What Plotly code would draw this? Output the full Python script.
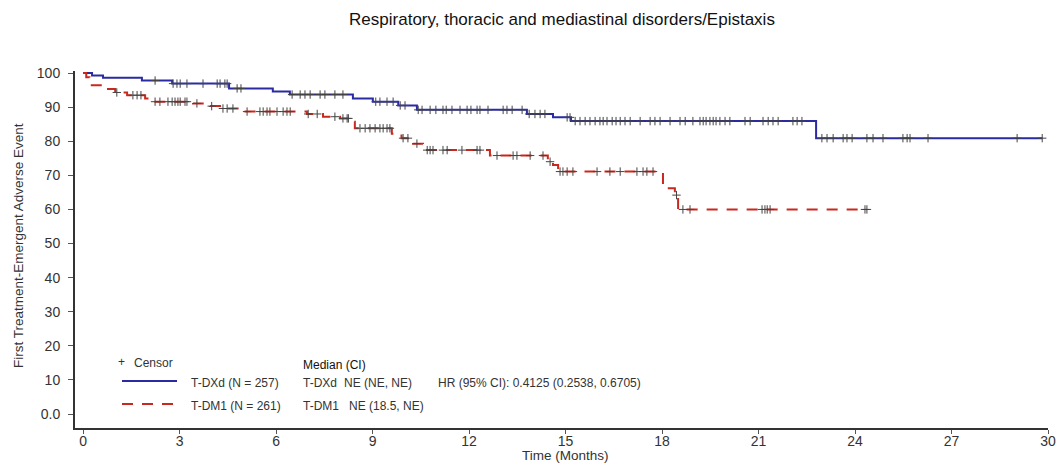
import numpy as np
import plotly.graph_objects as go

# Kaplan-Meier step data: event times (months) and event-free percentage after each step
tdxd_times = [0, 0.28, 0.62, 1.83, 2.77, 4.54, 5.9, 6.43, 8.39, 9.01, 9.8, 10.38,
              13.8, 14.61, 15.17, 22.79]
tdxd_surv = [100, 99.3, 98.6, 97.8, 96.9, 95.5, 94.6, 93.7, 92.5, 91.6, 90.5, 89.2,
             88.0, 87.0, 85.9, 80.9]
tdxd_end = 29.82

tdm1_times = [0, 0.1, 0.2, 0.62, 1.0, 1.37, 1.93, 2.08, 3.42, 3.95, 4.26, 4.97,
              6.96, 7.46, 7.99, 8.3, 8.45, 9.6, 9.9, 10.26, 10.57, 12.65, 14.45,
              14.61, 14.77, 18.03, 18.4, 18.5]
tdm1_surv = [100, 98.8, 96.4, 95.3, 94.3, 93.5, 92.5, 91.6, 91.1, 90.3, 89.6, 88.7,
             88.0, 87.2, 86.7, 85.7, 83.8, 82.2, 80.9, 79.3, 77.4, 75.8, 74.0,
             73.0, 71.1, 66.2, 64.2, 60.0]
tdm1_end = 24.37

# Censoring times (months)
tdxd_censor = [2.24, 2.80, 2.92, 3.02, 3.23, 3.73, 4.17, 4.26, 4.41, 4.48, 4.79, 4.91,
               6.5, 6.75, 6.90, 7.06, 7.37, 7.52, 7.83, 8.08, 9.1, 9.23, 9.45, 9.64,
               9.86, 10.01, 10.42, 10.54, 10.79, 10.97, 11.19, 11.29, 11.47, 11.72,
               11.94, 12.06, 12.25, 12.34, 12.59, 13.06, 13.18, 13.34, 13.65, 13.87,
               14.05, 14.21, 14.36, 15.05, 15.14, 15.30, 15.45, 15.61, 15.76, 15.92,
               16.07, 16.17, 16.29, 16.45, 16.57, 16.70, 16.85, 17.01, 17.32, 17.63,
               17.78, 17.94, 18.25, 18.56, 18.72, 18.96, 19.18, 19.28, 19.37, 19.49,
               19.59, 19.68, 19.80, 19.96, 20.11, 20.58, 20.74, 21.14, 21.30, 21.45,
               21.61, 22.07, 22.20, 22.35, 22.97, 23.13, 23.32, 23.63, 23.75, 23.91,
               24.37, 24.56, 24.87, 25.49, 25.62, 25.71, 26.27, 29.04, 29.82]
tdm1_censor = [1.05, 1.55, 1.68, 1.80, 2.24, 2.39, 2.64, 2.77, 2.86, 2.95, 3.02, 3.17,
               3.23, 3.54, 4.0, 4.35, 4.48, 4.66, 5.10, 5.50, 5.60, 5.72, 5.81, 6.03,
               6.22, 6.34, 6.44, 7.00, 7.28, 7.83, 8.08, 8.21, 8.25, 8.61, 8.77, 8.92,
               9.08, 9.23, 9.33, 9.45, 9.54, 9.95, 10.10, 10.38, 10.70, 10.79, 10.88,
               11.19, 11.32, 11.78, 12.25, 12.34, 12.87, 13.37, 13.49, 13.90, 14.30,
               14.52, 14.83, 14.92, 15.05, 15.23, 15.98, 16.38, 16.70, 17.22, 17.41,
               17.53, 17.72, 18.45, 18.65, 18.87, 21.11, 21.20, 21.27, 21.36, 24.31,
               24.37]

y_ticks = [0, 10, 20, 30, 40, 50, 60, 70, 80, 90, 100]
y_ticktext = ["0.0", "10", "20", "30", "40", "50", "60", "70", "80", "90", "100"]
x_ticks = [0, 3, 6, 9, 12, 15, 18, 21, 24, 27, 30]

BLUE = "#2a2aa3"
RED = "#c9281f"
CENSOR = "#444444"
TEXT = "#333333"
FONT = "Liberation Sans, Arial, sans-serif"


def step_value(times, surv, t):
    idx = np.searchsorted(np.asarray(times), t, side="right") - 1
    return np.asarray(surv)[idx]


def curve(times, surv, end):
    return list(times) + [end], list(surv) + [surv[-1]]


fig = go.Figure()

for times, surv, end, cens, color, dash in [
    (tdxd_times, tdxd_surv, tdxd_end, tdxd_censor, BLUE, "solid"),
    (tdm1_times, tdm1_surv, tdm1_end, tdm1_censor, RED, "11px,9px"),
]:
    x, y = curve(times, surv, end)
    fig.add_trace(go.Scatter(x=x, y=y, mode="lines", line_shape="hv",
                             line=dict(color=color, width=2, dash=dash),
                             hoverinfo="skip", showlegend=False))
    fig.add_trace(go.Scatter(x=cens, y=step_value(times, surv, cens), mode="markers",
                             marker=dict(symbol="cross-thin", size=6,
                                         line=dict(color=CENSOR, width=1)),
                             hoverinfo="skip", showlegend=False, cliponaxis=False))

# plot-area pixel frame used for placing the legend block and axis titles
W, H = 1061, 466
L, R, T, B = 75, 1048, 71, 428


def px(xp):
    return (xp - L) / (R - L)


def py(yp):
    return (B - yp) / (B - T)


shapes = [
    dict(type="line", xref="paper", yref="paper", x0=px(122), x1=px(177),
         y0=py(381), y1=py(381), line=dict(color=BLUE, width=2)),
    dict(type="line", xref="paper", yref="paper", x0=px(122), x1=px(177),
         y0=py(404), y1=py(404), line=dict(color=RED, width=2, dash="11px,9px")),
]

legend_text = [
    ("+", 116, 362),
    ("Censor", 132, 363),
    ("T-DXd (N = 257)", 189, 383),
    ("T-DM1 (N = 261)", 189, 406),
    ("Median (CI)", 301, 365),
    ("T-DXd", 301, 383),
    ("NE (NE, NE)", 342, 383),
    ("HR (95% CI): 0.4125 (0.2538, 0.6705)", 436, 383),
    ("T-DM1", 301, 406),
    ("NE (18.5, NE)", 347, 406),
]
annotations = [
    dict(text=t, xref="paper", yref="paper", x=px(xp), y=py(yp), xanchor="left",
         yanchor="middle", showarrow=False,
         font=dict(family=FONT, size=12, color="#111" if t == "Median (CI)" else TEXT))
    for t, xp, yp in legend_text
]
annotations += [
    dict(text="Time (Months)", xref="paper", yref="paper", x=px(565), y=py(455),
         xanchor="center", yanchor="middle", showarrow=False,
         font=dict(family=FONT, size=13.5, color=TEXT)),
    dict(text="First Treatment-Emergent Adverse Event", xref="paper", yref="paper",
         x=px(18), y=py(246), xanchor="center", yanchor="middle", textangle=-90,
         showarrow=False, font=dict(family=FONT, size=13.5, color=TEXT)),
]

fig.update_layout(
    width=W, height=H,
    margin=dict(l=L, r=W - R, t=T, b=H - B, autoexpand=False),
    paper_bgcolor="white", plot_bgcolor="white",
    font=dict(family=FONT, color=TEXT),
    title=dict(text="Respiratory, thoracic and mediastinal disorders/Epistaxis",
               x=562 / W, xanchor="center", y=1 - 19 / H, yanchor="middle",
               font=dict(family=FONT, size=17, color="#111")),
    xaxis=dict(range=[-0.25, 30], tickvals=x_ticks, ticks="outside", ticklen=4,
               tickcolor="#555", tickwidth=1, showline=True, linecolor="#333",
               linewidth=2, showgrid=False, zeroline=False, automargin=False,
               ticklabelstandoff=-5, tickfont=dict(size=14, color=TEXT)),
    yaxis=dict(range=[-4.1, 100.6], tickvals=y_ticks, ticktext=y_ticktext,
               ticks="outside", ticklen=5, tickcolor="#555", tickwidth=1,
               showline=True, linecolor="#333", linewidth=2, showgrid=False,
               zeroline=False, automargin=False, ticklabelstandoff=5,
               tickfont=dict(size=14, color=TEXT)),
    shapes=shapes,
    annotations=annotations,
    hovermode=False,
)

fig.write_html("out.html")
